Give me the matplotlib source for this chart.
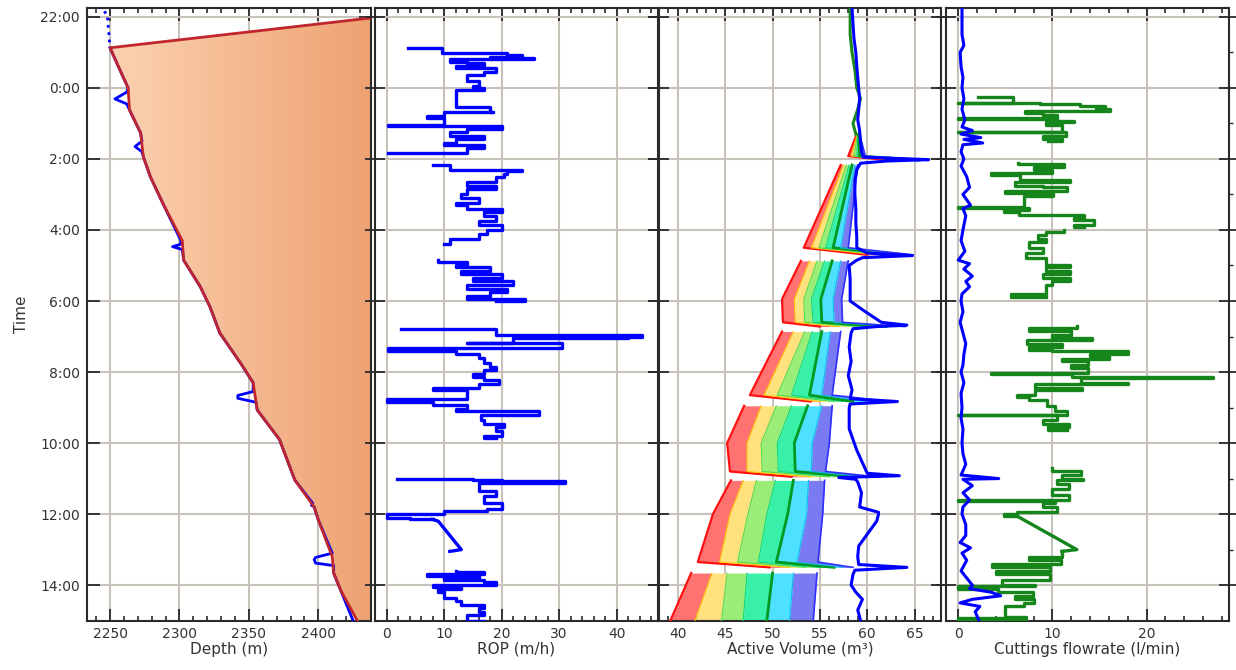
import numpy as np
import matplotlib.pyplot as plt
from matplotlib.colors import LinearSegmentedColormap
from matplotlib.patches import Polygon
from matplotlib.ticker import MultipleLocator

# time axis: hours from midnight, 22:00 the evening before = -2
time_ticks = [-2, 0, 2, 4, 6, 8, 10, 12, 14]
time_labels = ['22:00', '0:00', '2:00', '4:00', '6:00', '8:00', '10:00', '12:00', '14:00']

# hole depth (m) - edge of the shaded area
dep_t = [-1.13, -0.6, 0.0, 0.62, 1.27, 1.94, 2.5, 3.25, 4.3, 4.85, 5.6, 6.17, 6.9, 7.75,
         8.3, 9.07, 9.9, 11.04, 11.8, 12.17, 13.2, 13.66, 14.14, 15.0]
dep_m = [2250, 2256, 2263, 2264, 2272, 2274, 2279, 2288, 2302, 2303, 2315, 2322, 2329, 2344,
         2353, 2356, 2372, 2383, 2397, 2400, 2410, 2411, 2416, 2428]
dep_top_t = -1.97
dep_top_m = 2438

# bit depth (m)
bit_top_t = [-2.3, -2.2, -2.05, -1.6, -1.13]
bit_top_m = [2242, 2245, 2248, 2249, 2250]
bit_t = [-1.13, -0.6, 0.0, 0.12, 0.31, 0.45, 0.62, 1.27, 1.5, 1.65, 1.8, 1.94, 2.5, 3.25, 4.3,
         4.4, 4.47, 4.55, 4.85, 5.6, 6.17, 6.9, 7.75, 8.3, 8.55, 8.66, 8.74, 8.85, 9.07, 9.9,
         11.04, 11.7, 11.75, 11.8, 12.17, 13.1, 13.22, 13.28, 13.38, 13.45, 13.66, 14.14, 15.0]
bit_m = [2250, 2256, 2263, 2262, 2253.5, 2262, 2264, 2272, 2273, 2268, 2273, 2274, 2279, 2288, 2301,
         2301, 2295, 2302, 2303, 2315, 2322, 2329, 2344, 2353, 2353, 2342, 2342, 2355, 2356, 2372,
         2383, 2396, 2395, 2397, 2400, 2410, 2398, 2397, 2398, 2411, 2411, 2416, 2425]

nan = float('nan')
# ROP (m/h), logged as steps
rop_t = [-1.13, -1.13, -0.99, -0.99, -0.92, -0.88, -0.85, -0.80, -0.72, -0.70, -0.62, -0.55, -0.45,
         -0.35, -0.20, -0.05, 0.0, 0.05, 0.53, 0.53, 0.67, 0.67, 0.80, 0.85, 1.04, 1.04, 1.06, 1.15,
         1.25, 1.35, 1.45, 1.55, 1.60, 1.70, 1.84, 1.84, nan,
         2.17, 2.17, 2.30, 2.30, 2.35, 2.42, 2.50, 2.65, 2.75, 2.85, 3.00, 3.10, 3.25, 3.30, 3.40,
         3.50, 3.60, 3.75, 3.85, 4.00, 4.10, 4.25, 4.40, nan,
         4.85, 4.90, 5.00, 5.05, 5.15, 5.25, 5.35, 5.45, 5.55, 5.65, 5.75, 5.85, 5.93, 6.00, nan,
         6.80, 6.80, 6.95, 6.95, 7.00, 7.05, 7.17, 7.17, 7.33, 7.33, 7.40, 7.50, 7.60, 7.75, 7.86,
         7.95, 8.05, 8.15, 8.22, 8.35, 8.45, 8.50, 8.75, 8.77, 8.85, 8.93, 9.05, 9.10, 9.20, 9.35,
         9.45, 9.55, 9.65, 9.80, 9.86, nan,
         11.00, 11.00, 11.05, 11.08, 11.12, 11.25, 11.35, 11.50, 11.70, 11.85, 11.92, 12.00, 12.00,
         12.10, 12.15, nan,
         13.60, 13.62, 13.70, 13.75, 13.80, 13.85, 13.90, 14.00, 14.05, 14.10, 14.20, 14.35, 14.45,
         14.55, 14.65, 14.75, 14.85, 15.00]
rop_v = [3.8, 9.6, 9.6, 21.0, 23.5, 18.0, 25.6, 11.0, 14.0, 17.0, 12.0, 19.0, 17.0,
         14.0, 16.0, 15.0, 17.0, 12.0, 13.0, 18.0, 18.5, 10.0, 7.0, 10.0, 10.0, 0.2, 20.0, 14.0,
         11.0, 17.0, 12.0, 10.0, 17.0, 14.0, 13.0, 0.2, nan,
         8.0, 11.0, 11.0, 23.5, 21.0, 20.5, 19.0, 14.0, 19.0, 14.0, 13.0, 16.0, 12.0, 14.0, 20.0,
         17.0, 19.0, 16.0, 20.0, 17.5, 16.0, 11.0, 10.0, nan,
         9.0, 14.0, 12.0, 18.0, 13.0, 20.0, 15.0, 22.0, 14.0, 21.0, 18.0, 14.0, 24.0, 19.0, nan,
         2.5, 19.0, 19.0, 44.5, 42.0, 22.0, 14.0, 30.5, 14.0, 0.3, 12.0, 16.0, 17.0, 18.0, 19.0,
         17.0, 15.0, 17.0, 19.5, 16.0, 8.0, 14.0, 8.0, 0.0, 8.0, 14.0, 12.0, 26.5, 16.5, 17.0,
         20.5, 19.0, 20.0, 17.0, 19.0, nan,
         1.8, 15.0, 20.0, 31.0, 16.0, 16.0, 19.0, 17.0, 20.0, 17.5, 10.0, 4.0, 0.0,
         4.0, 8.0, nan,
         12.0, 17.0, 7.0, 16.0, 10.0, 17.0, 19.0, 8.0, 13.0, 9.0, 10.0, 12.0, 13.0,
         17.0, 16.0, 17.0, 14.0, 17.0]
# ROP ramp after 12:00
rop_ramp_t = [12.15, 12.2, 13.0, 13.05]
rop_ramp_v = [8.0, 9.0, 13.0, 11.0]

# active volume (m3): measured pit volume and early green trace
pv_t = [-2.25, -1.8, -1.4, -1.0, -0.6, -0.3, 0.0, 0.3, 0.6, 0.9, 1.2, 1.5, 1.8, 1.95, 2.02, 2.06,
        2.12, 2.3, 2.6, 3.0, 3.4, 3.8, 4.2, 4.5, 4.65, 4.72, 4.78, 4.85, 5.0, 5.4, 5.8, 6.0, 6.3,
        6.6, 6.68, 6.72, 6.78, 6.9, 7.3, 7.7, 8.1, 8.5, 8.75, 8.83, 8.9, 9.0, 9.3, 9.6, 10.2, 10.85,
        10.92, 10.97, 11.02, 11.1, 11.4, 11.8, 11.95, 12.0, 12.2, 12.9, 13.2, 13.42, 13.5, 13.58,
        13.7, 14.0, 14.2, 14.4, 14.7, 15.0]
pv_v = [58.4, 58.5, 58.6, 58.8, 58.9, 59.0, 59.1, 59.2, 59.1, 59.0, 59.2, 59.3, 59.4, 59.6, 66.5, 62.0,
        59.3, 58.9, 58.7, 58.7, 58.8, 58.8, 58.9, 58.9, 60.0, 64.8, 59.5, 58.9, 58.1, 58.2, 58.2, 58.2, 59.8,
        61.5, 64.2, 61.0, 58.5, 58.3, 58.1, 58.3, 58.0, 58.4, 58.2, 63.2, 58.2, 58.1, 58.1, 58.1, 58.9, 60.0,
        63.4, 57.0, 58.8, 59.0, 59.4, 59.2, 61.2, 61.2, 61.0, 59.1, 59.0, 59.1, 64.2, 58.7,
        58.5, 58.3, 58.8, 59.5, 59.0, 59.3]
av_green_t = [-2.25, -1.5, -1.0, -0.5, 0.0, 0.3, 0.6, 1.0, 1.3]
av_green_v = [58.2, 58.2, 58.4, 58.7, 58.9, 59.3, 59.0, 58.5, 58.8]

# predicted volume bands, one block per stand: times and 7 band edges per time
seg_times = [
    [1.30, 1.92, 2.03],
    [2.17, 4.50, 4.70],
    [4.87, 5.95, 6.60, 6.72],
    [6.86, 8.65, 8.83],
    [8.95, 10.0, 10.8, 10.95],
    [11.05, 12.0, 13.35, 13.50],
    [13.66, 15.0],
]
seg_edges = [
    [[58.9, 58.95, 59.0, 59.05, 59.1, 59.15, 59.2],
     [58.0, 58.3, 58.6, 58.9, 59.2, 59.5, 59.8],
     [62.0, 63.0, 64.0, 65.0, 65.5, 66.0, 66.3]],
    [[57.2, 57.5, 57.8, 58.1, 58.4, 58.7, 59.0],
     [53.3, 54.1, 54.9, 55.6, 56.4, 57.2, 58.0],
     [60.0, 61.0, 62.0, 63.0, 64.0, 64.5, 64.8]],
    [[53.0, 53.9, 54.7, 55.5, 56.3, 57.2, 58.0],
     [51.0, 52.3, 53.3, 54.1, 55.1, 56.4, 57.3],
     [51.1, 52.4, 53.4, 54.3, 55.2, 56.5, 57.4],
     [55.0, 57.0, 59.0, 60.5, 62.0, 63.0, 64.0]],
    [[51.0, 52.2, 53.4, 54.2, 55.2, 56.1, 57.2],
     [47.6, 49.1, 50.5, 52.0, 53.9, 55.2, 56.3],
     [54.0, 55.0, 56.5, 57.5, 58.5, 60.0, 62.5]],
    [[47.0, 48.8, 50.4, 52.0, 53.7, 55.2, 56.3],
     [45.2, 47.3, 48.8, 50.5, 52.3, 54.2, 56.0],
     [45.5, 47.3, 48.9, 50.6, 52.4, 54.1, 55.6],
     [52.0, 54.0, 56.0, 57.7, 58.8, 60.0, 61.0]],
    [[45.6, 46.9, 48.3, 50.3, 52.2, 53.8, 55.5],
     [43.7, 45.5, 47.4, 49.4, 51.6, 53.6, 55.3],
     [42.1, 44.4, 46.3, 48.5, 50.4, 52.6, 54.8],
     [49.7, 51.8, 53.5, 55.0, 56.5, 57.5, 58.5]],
    [[41.4, 43.6, 45.2, 47.3, 50.0, 52.2, 54.7],
     [39.2, 41.8, 44.6, 46.9, 49.4, 51.8, 54.3]],
]
band_colors = ['#ff7272', '#ffe27e', '#9aee78', '#38f0a8', '#4ee0ff', '#7a7af2']
edge_colors = ['#ff1010', '#ffc800', '#50dc50', '#10d880', '#009a20', '#10b8f0', '#3030ff']
edge_widths = [1.6, 0.8, 0.8, 0.8, 2.0, 0.8, 1.2]

# cuttings flowrate (l/min)
cb_t = [-2.25, -1.5, -1.2, -1.0, -0.6, -0.3, 0.0, 0.3, 0.6, 0.9, 1.1, 1.2, 1.3, 1.4, 1.45, 1.55, 1.6,
        1.8, 2.0, 2.2, 2.5, 2.8, 3.0, 3.3, 3.4, 3.6, 4.0, 4.3, 4.6, 4.85, 4.95, 5.1, 5.3, 5.45, 5.6,
        5.8, 6.0, 6.3, 6.6, 6.9, 7.2, 7.5, 7.8, 8.0, 8.3, 8.6, 9.0, 9.3, 9.6, 10.0, 10.3, 10.6, 10.9,
        11.0, 11.02, 11.2, 11.4, 11.6, 11.8, 12.0, 12.3, 12.6, 12.8, 12.95, 13.1, 13.3, 13.6, 13.8,
        14.0, 14.1, 14.2, 14.3, 14.4, 14.5, 14.6, 14.75, 15.0]
cb_v = [0.4, 0.4, 0.6, 0.2, 0.3, 0.5, 0.4, 0.6, 0.4, 0.7, 0.4, 1.5, 0.3, 2.4, 0.6, 2.6, 0.5,
        0.3, 0.6, 0.3, 0.9, 1.2, 0.5, 1.3, 0.5, 0.8, 0.5, 0.3, 0.7, 0.0, 1.2, 0.6, 1.5, 0.8, 1.2,
        0.4, 0.3, 0.5, 0.2, 0.5, 0.8, 0.6, 0.5, 0.3, 0.6, 0.3, 0.4, 0.3, 0.5, 0.4, 0.5, 0.8, 0.3,
        4.3, 0.5, 1.5, 0.5, 1.2, 0.5, 0.4, 0.8, 0.8, 0.2, 1.3, 0.4, 0.9, 0.3, 0.9,
        1.5, 1.2, 3.5, 4.5, 1.5, 0.2, 2.3, 1.8, 2.2]
cg_t = [0.25, 0.25, 0.42, 0.42, 0.45, 0.50, 0.55, 0.60, 0.65, 0.70, 0.75, 0.86, 0.88, 0.92, 0.97,
        1.05, 1.23, 1.25, 1.35, 1.45, 1.50, nan,
        2.12, 2.15, 2.22, 2.30, 2.40, 2.45, 2.60, 2.65, 2.75, 2.80, 2.90, 2.97, 3.05, 3.35, 3.37,
        3.45, 3.50, 3.58, 3.65, 3.72, 3.86, 3.92, nan,
        4.00, 4.05, 4.15, 4.25, 4.35, 4.50, 4.65, 4.80, 5.00, 5.05, 5.15, 5.25, 5.35, 5.45, 5.55,
        5.70, 5.80, 5.90, nan,
        6.70, 6.75, 6.85, 6.95, 7.05, 7.10, 7.20, 7.30, 7.38, 7.42, 7.50, 7.55, 7.62, 7.70, 7.80,
        7.90, 8.03, 8.05, 8.13, 8.18, 8.30, 8.34, 8.45, 8.50, 8.64, 8.70, 8.80, 8.95, 9.10, 9.20,
        9.22, 9.35, 9.45, 9.55, 9.62, nan,
        10.70, 10.80, 10.90, 11.00, 11.05, 11.15, 11.30, 11.45, 11.60, 11.62, 11.70, 11.80, 11.95,
        12.00, 12.05, nan,
        13.05, 13.20, 13.30, 13.40, 13.50, 13.60, 13.70, 13.85, 14.00, 14.02,
        14.10, 14.20, 14.30, 14.40, 14.50, 14.60, 14.90, 14.92, 15.0]
cg_v = [2.1, 5.8, 0.0, 8.7, 12.9, 15.6, 14.6, 16.1, 7.1, 9.0, 10.5, 0.0, 10.5, 12.3, 9.3,
        11.0, 0.0, 11.4, 9.0, 11.0, 9.5, nan,
        6.3, 11.2, 8.0, 10.0, 3.5, 6.6, 11.9, 6.0, 9.0, 11.5, 5.0, 10.1, 7.0, 0.0, 7.5,
        4.9, 6.5, 13.4, 12.3, 14.4, 12.3, 13.4, nan,
        11.2, 9.3, 8.5, 9.3, 7.5, 9.0, 7.2, 9.3, 11.9, 9.3, 11.9, 9.0, 11.9, 10.0, 9.3,
        9.3, 5.6, 9.3, nan,
        12.6, 7.5, 12.0, 10.0, 14.2, 7.3, 11.0, 7.5, 10.0, 18.0, 14.0, 16.0, 11.0, 13.8, 12.0,
        13.8, 3.5, 12.1, 27.1, 13.0, 18.0, 8.2, 13.1, 8.2, 6.2, 7.5, 9.4, 10.3, 11.6, 0.0,
        10.5, 9.0, 11.8, 9.5, 11.5, nan,
        10.0, 13.0, 11.0, 13.2, 10.5, 11.8, 10.0, 11.8, 0.0, 10.3, 9.0, 10.5, 6.2,
        4.9, 6.2, nan,
        11.0, 7.5, 10.9, 3.6, 9.7, 4.0, 9.7, 4.6, 8.2, 0.0,
        4.2, 7.9, 6.0, 8.0, 7.0, 5.0, 7.2, 0.0, 7.2]
# cuttings ramp after 12:00
cg_ramp_t = [12.05, 13.0, 13.05]
cg_ramp_v = [6.2, 12.6, 11.0]

W, H = 1236, 670
fig = plt.figure(figsize=(W / 100, H / 100), dpi=100)
plt.rcParams['font.family'] = 'DejaVu Sans'

y0, y1 = 8, 621
def panel(x0, x1):
    return fig.add_axes([x0 / W, 1 - y1 / H, (x1 - x0) / W, (y1 - y0) / H])

ax1 = panel(87, 371)
ax2 = panel(375, 658)
ax3 = panel(659, 941)
ax4 = panel(946, 1229)

grid_c = '#c8c2bb'
spine_c = '#2a2a2a'
for ax in (ax1, ax2, ax3, ax4):
    ax.set_ylim(15.01, -2.25)
    ax.set_yticks(time_ticks)
    ax.grid(True, which='major', color=grid_c, lw=1.5, zorder=0)
    ax.set_axisbelow(True)
    for s in ax.spines.values():
        s.set_color(spine_c)
        s.set_linewidth(1.5)
    ax.tick_params(axis='x', which='major', direction='in', length=9, width=1.3, top=True,
                   labelsize=10, labelcolor='#333333', color=spine_c, pad=4)
    ax.tick_params(axis='x', which='minor', direction='in', length=3.5, width=1.2, top=True,
                   color=spine_c)
    ax.tick_params(axis='y', which='major', direction='inout', length=14, width=1.3,
                   left=True, right=True, labelleft=False, color=spine_c)

ax1.tick_params(axis='y', which='major', direction='in', length=9, labelleft=True,
                labelsize=10, labelcolor='#333333', pad=5)
ax1.set_yticklabels(time_labels)
ax1.set_ylabel('Time', fontsize=11, color='#333333', labelpad=8)

# depth panel
ax1.set_xlim(2233.4, 2437.9)
ax1.xaxis.set_major_locator(MultipleLocator(50))
ax1.xaxis.set_minor_locator(MultipleLocator(10))
cmap = LinearSegmentedColormap.from_list('peach', ['#fdd6b6', '#eea272'])
poly = Polygon(list(zip(dep_m, dep_t)) + [(2437.9, 15.01), (2437.9, dep_top_t)],
               closed=True, facecolor='none', edgecolor='none')
ax1.add_patch(poly)
img = ax1.imshow(np.linspace(0, 1, 256).reshape(1, -1), extent=[2233.4, 2437.9, 15.01, -2.25],
                 aspect='auto', cmap=cmap, zorder=1)
img.set_clip_path(poly)
ax1.plot(bit_top_m, bit_top_t, color='#0000ff', lw=2, ls=':', zorder=3)
ax1.plot(bit_m, bit_t, color='#0000ff', lw=2, zorder=3)
ax1.plot([dep_top_m] + dep_m, [dep_top_t] + dep_t, color='#c0262c', lw=2, zorder=4)
ax1.set_xlim(2233.4, 2437.9)
ax1.set_ylim(15.01, -2.25)
ax1.set_xlabel('Depth (m)', fontsize=11, color='#333333', labelpad=1)

# ROP panel
ax2.set_xlim(-2.0, 47.2)
ax2.xaxis.set_major_locator(MultipleLocator(10))
ax2.xaxis.set_minor_locator(MultipleLocator(2))
ax2.plot(rop_v, rop_t, color='#0000ff', lw=2.4, drawstyle='steps-pre', zorder=3)
ax2.plot(rop_ramp_v, rop_ramp_t, color='#0000ff', lw=2.4, zorder=3)
ax2.set_xlabel('ROP (m/h)', fontsize=11, color='#333333', labelpad=1)

# active volume panel
ax3.set_xlim(38.0, 67.8)
ax3.xaxis.set_major_locator(MultipleLocator(5))
ax3.xaxis.set_minor_locator(MultipleLocator(1))
for ts, edges in zip(seg_times, seg_edges):
    e = np.array(edges)
    for k in range(6):
        ax3.fill_betweenx(ts, e[:, k], e[:, k + 1], color=band_colors[k], lw=0, zorder=2)
    for k in range(7):
        ax3.plot(e[:, k], ts, color=edge_colors[k], lw=edge_widths[k], zorder=3)
ax3.plot(av_green_v, av_green_t, color='#1a8a1a', lw=2.2, zorder=3)
ax3.plot(pv_v, pv_t, color='#0000ff', lw=2.2, zorder=4)
ax3.set_xlabel('Active Volume (m\u00b3)', fontsize=11, color='#333333', labelpad=1)

# cuttings panel
ax4.set_xlim(-1.3, 28.75)
ax4.xaxis.set_major_locator(MultipleLocator(10))
ax4.xaxis.set_minor_locator(MultipleLocator(2))
ax4.plot(cg_v, cg_t, color='#16861c', lw=2.4, drawstyle='steps-pre', zorder=3)
ax4.plot(cg_ramp_v, cg_ramp_t, color='#16861c', lw=2.4, zorder=3)
ax4.plot(cb_v, cb_t, color='#0000ff', lw=2.2, zorder=4)
ax4.set_yticks([-1, 1, 3, 5, 7, 9, 11, 13], minor=True)
ax4.tick_params(axis='y', which='minor', direction='out', length=3, width=1, left=False,
                right=True, color=spine_c)
ax4.set_xlabel('Cuttings flowrate (l/min)', fontsize=11, color='#333333', labelpad=1)

fig.savefig('out.png', dpi=100)
